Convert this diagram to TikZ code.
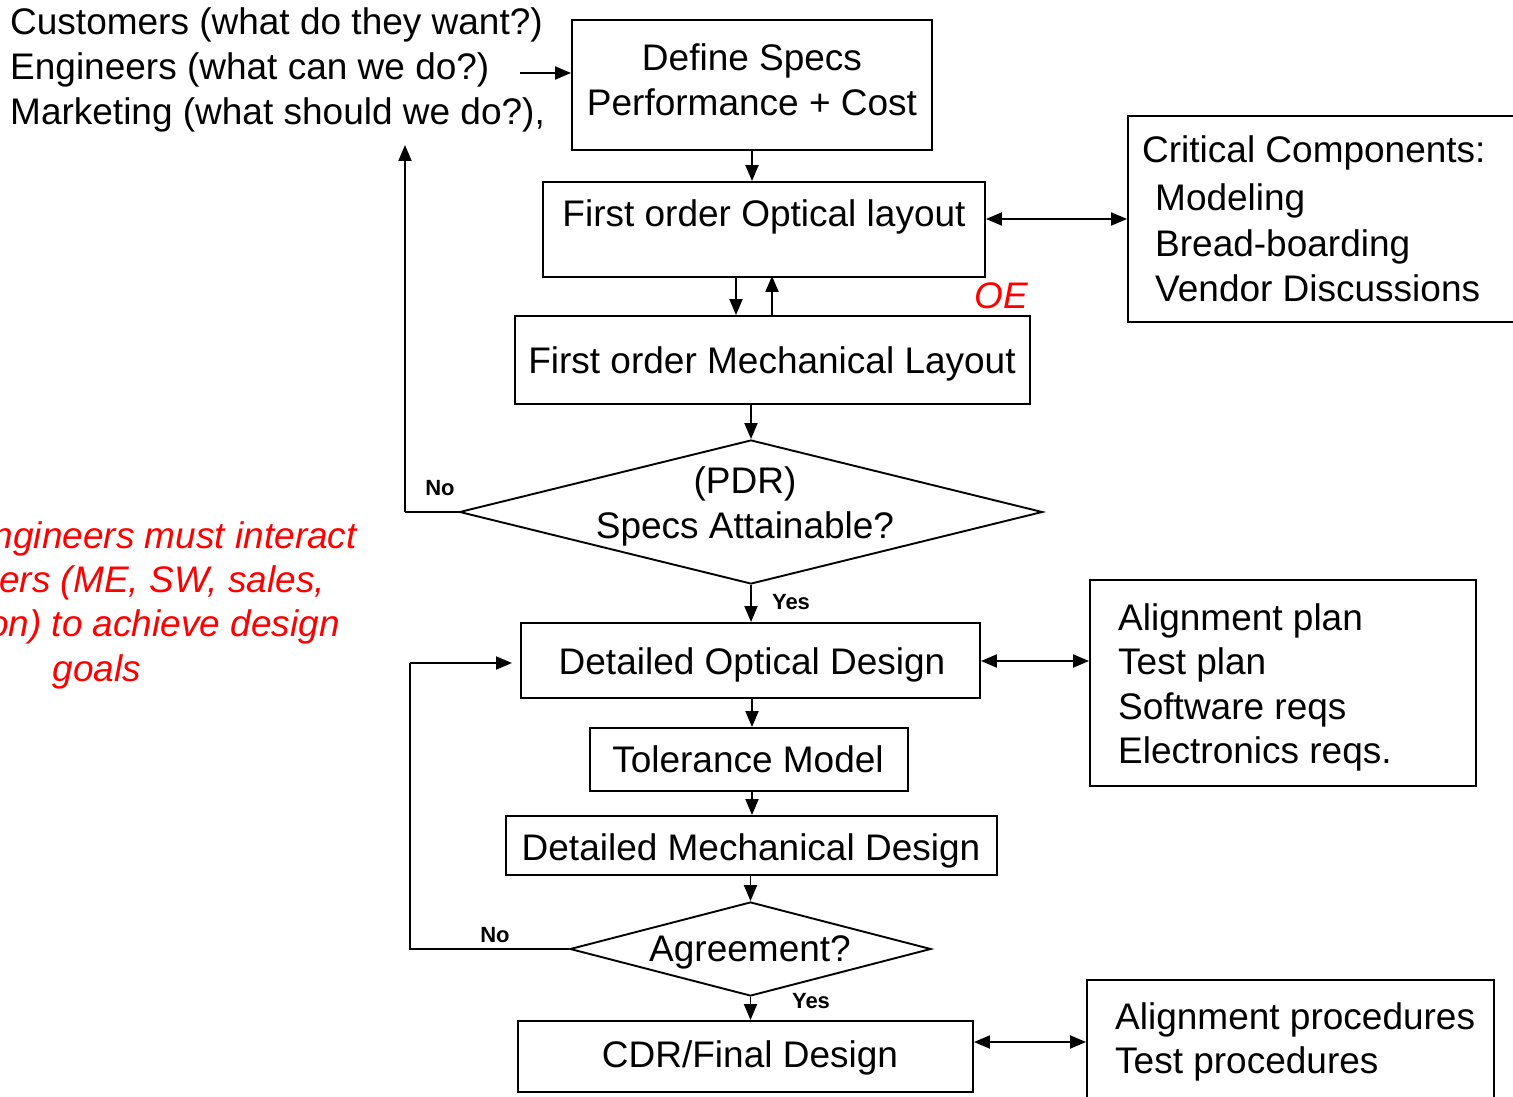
\documentclass[tikz,border=0pt]{standalone}
\usepackage{fontspec}
\setmainfont{Liberation Sans}
\usetikzlibrary{arrows.meta,shapes.geometric}
\begin{document}
\begin{tikzpicture}[x=1pt,y=-1pt,
  txt/.style={font=\fontsize{37}{45}\selectfont, inner sep=0},
  redtxt/.style={font=\itshape\fontsize{37}{45}\selectfont, text=red, inner sep=0},
  lbl/.style={font=\bfseries\fontsize{22}{26}\selectfont, inner sep=0},
  box/.style={draw, line width=1.9pt, inner sep=0},
  dia/.style={draw, diamond, line width=1.9pt, inner sep=0},
  conn/.style={line width=1.9pt, -{Triangle[length=16pt,width=13pt]}},
  dbl/.style={line width=1.9pt, {Triangle[length=16pt,width=13pt]}-{Triangle[length=16pt,width=13pt]}},
  plain/.style={line width=1.9pt}]
\useasboundingbox (0,0) rectangle (1513,1097);

% left input text
\node[txt, anchor=base west] (cust) at (10,35) {Customers (what do they want?)};
\node[txt, anchor=base west] (eng) at (10,80) {Engineers (what can we do?)};
\node[txt, anchor=base west] (mkt) at (10,125) {Marketing (what should we do?),};
\coordinate (inarr) at (520,73);

% boxes
\node[box, minimum width=360, minimum height=130] (def) at (752,85) {};
\node[txt, anchor=base] (defA) at (752,71) {Define Specs};
\node[txt, anchor=base] (defB) at (752,116) {Performance + Cost};

\node[box, minimum width=442, minimum height=95] (opt) at (764,229.5) {};
\node[txt, anchor=base] (optT) at (764,226) {First order Optical layout};

\node[redtxt, anchor=base] (oe) at (1001,308) {OE};

\node[box, minimum width=515, minimum height=88] (mech) at (772.5,360) {};
\node[txt, anchor=base] (mechT) at (772,373) {First order Mechanical Layout};

\node[box, minimum width=402, minimum height=206] (crit) at (1329,219) {};
\node[txt, anchor=base west] (critA) at (1142,163) {Critical Components:};
\node[txt, anchor=base west] (critB) at (1155,211) {Modeling};
\node[txt, anchor=base west] (critC) at (1155,256) {Bread-boarding};
\node[txt, anchor=base west] (critD) at (1155,301) {Vendor Discussions};

\node[dia, minimum width=583, minimum height=144] (pdr) at (751,512) {};
\node[txt, anchor=base] (pdrA) at (745,493) {(PDR)};
\node[txt, anchor=base] (pdrB) at (745,538) {Specs Attainable?};
\node[lbl, anchor=base] (no1) at (440,495) {No};
\node[lbl, anchor=base] (yes1) at (791,609) {Yes};
\coordinate (noCorner) at (405,512);
\coordinate (noTop) at (405,145);

\node[box, minimum width=459, minimum height=75] (dod) at (750.5,660.5) {};
\node[txt, anchor=base] (dodT) at (752,674) {Detailed Optical Design};

\node[box, minimum width=386, minimum height=206] (al) at (1283,683) {};
\node[txt, anchor=base west] (alA) at (1118,630) {Alignment plan};
\node[txt, anchor=base west] (alB) at (1118,674) {Test plan};
\node[txt, anchor=base west] (alC) at (1118,719) {Software reqs};
\node[txt, anchor=base west] (alD) at (1118,763) {Electronics reqs.};

\node[box, minimum width=318, minimum height=63] (tol) at (749,759.5) {};
\node[txt, anchor=base] (tolT) at (748,772) {Tolerance Model};

\node[box, minimum width=491, minimum height=59] (dmd) at (751.5,845.5) {};
\node[txt, anchor=base] (dmdT) at (751,860) {Detailed Mechanical Design};

\node[dia, minimum width=361, minimum height=94] (agr) at (750.5,949) {};
\node[txt, anchor=base] (agrT) at (750,961) {Agreement?};
\node[lbl, anchor=base] (no2) at (495,942) {No};
\node[lbl, anchor=base] (yes2) at (811,1008) {Yes};
\coordinate (loopA) at (410,949);
\coordinate (loopB) at (410,663);
\coordinate (loopEnd) at (512,663);

\node[box, minimum width=455, minimum height=71] (cdr) at (745.5,1056.5) {};
\node[txt, anchor=base] (cdrT) at (750,1067) {CDR/Final Design};

\node[box, minimum width=407, minimum height=124] (proc) at (1290.5,1042) {};
\node[txt, anchor=base west] (procA) at (1115,1029) {Alignment procedures};
\node[txt, anchor=base west] (procB) at (1115,1073) {Test procedures};

% red note (cut by the left edge, as in the original)
\node[redtxt, anchor=base east] (rA) at (357,548) {ngineers must interact};
\node[redtxt, anchor=base east] (rB) at (325,592) {ers (ME, SW, sales,};
\node[redtxt, anchor=base east] (rC) at (340,636) {on) to achieve design};
\node[redtxt, anchor=base] (rD) at (97,681) {goals};

% connectors
\draw[conn] (inarr) -- (inarr -| def.west);
\draw[conn] (def.south) -- (def.south |- opt.north);
\draw[conn] (opt.south -| 736,0) -- (mech.north -| 736,0);
\draw[conn] (mech.north -| 772,0) -- ([yshift=2]opt.south -| 772,0);
\draw[dbl] (opt.east |- crit.west) -- (crit.west);
\draw[conn] (mech.south -| pdr.north) -- (pdr.north);
\draw[plain] (pdr.west) -- (noCorner);
\draw[conn] (noCorner) -- (noTop);
\draw[conn] (pdr.south) -- (pdr.south |- dod.north);
\draw[dbl] (dod.east |- 0,661) -- (al.west |- 0,661);
\draw[conn] (dod.south -| 752,0) -- (tol.north -| 752,0);
\draw[conn] (tol.south -| 752,0) -- (dmd.north -| 752,0);
\draw[conn] (dmd.south -| agr.north) -- (agr.north);
\draw[plain] (agr.west) -- (loopA) -- (loopB);
\draw[conn] (loopB) -- (loopEnd);
\draw[conn] (agr.south) -- (agr.south |- cdr.north);
\draw[dbl] (cdr.east |- proc.west) -- (proc.west);
\end{tikzpicture}
\end{document}
